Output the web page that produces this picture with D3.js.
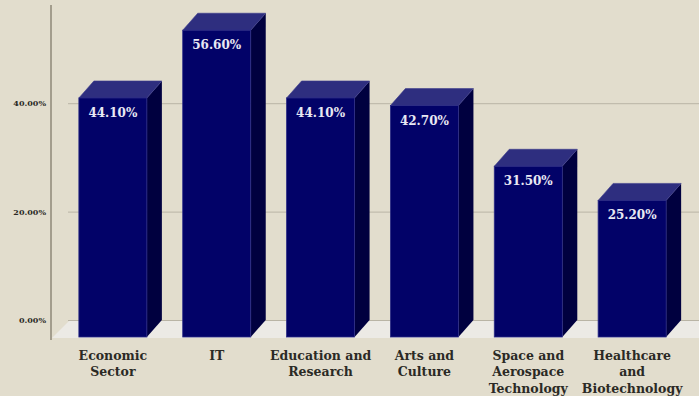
<!DOCTYPE html>
<html>
<head>
<meta charset="utf-8">
<script src="https://cdn.jsdelivr.net/npm/d3@7/dist/d3.min.js"></script>
<style>
  html, body { margin: 0; padding: 0; background: #e2ddcd; }
  svg { display: block; }
</style>
</head>
<body>
<svg id="chart" width="699" height="396"></svg>
<script>
// Share of respondents by sector (percent)
const categories = [
  ["Economic", "Sector"],
  ["IT"],
  ["Education and", "Research"],
  ["Arts and", "Culture"],
  ["Space and", "Aerospace", "Technology"],
  ["Healthcare", "and", "Biotechnology"]
];
const values = [44.1, 56.6, 44.1, 42.7, 31.5, 25.2];
const tickValues = [0, 20, 40];

const W = 699, H = 396;
const depthX = 15, depthY = 17;      // 3D extrusion offset
const plotLeft = 51, plotRight = 699;
const baseY = 337;

const svg = d3.select("#chart");
svg.append("rect").attr("width", W).attr("height", H).attr("fill", "#e2ddcd");

const x = d3.scaleBand()
  .domain(d3.range(values.length))
  .range([61, 684])
  .paddingInner(0.345)
  .paddingOuter(0.172);

const y = d3.scaleLinear().domain([0, 60]).range([baseY, baseY - 60 * 5.42]);

// Floor of the 3D plot
svg.append("path")
  .attr("d", d3.line()([
    [plotLeft + 1, baseY + 1],
    [plotLeft + 1 + depthX + 2, baseY + 1 - depthY],
    [plotRight, baseY + 1 - depthY],
    [plotRight, baseY + 1]
  ]) + "Z")
  .attr("fill", "#eceae5");

// Gridlines and tick labels on the back wall
const axis = d3.axisLeft(y)
  .tickValues(tickValues)
  .tickFormat(d => d3.format(".2%")(d / 100))
  .tickSize(-(plotRight - plotLeft - depthX - 2))
  .tickPadding(22);

const gAxis = svg.append("g")
  .attr("transform", `translate(${plotLeft + depthX + 2},${-depthY})`)
  .call(axis);
gAxis.select(".domain").remove();
gAxis.selectAll(".tick line").attr("stroke", "#b9b4a5").attr("stroke-width", 1);
gAxis.selectAll(".tick text")
  .attr("fill", "#2b2a25")
  .attr("font-family", "'DejaVu Serif', serif")
  .attr("font-weight", "bold")
  .attr("font-size", 8);

// Vertical axis line
svg.append("line")
  .attr("x1", plotLeft).attr("x2", plotLeft)
  .attr("y1", 5).attr("y2", baseY + 3)
  .attr("stroke", "#8e8777").attr("stroke-width", 1.5);

// Bars
const bars = svg.append("g").selectAll("g").data(values).join("g");

bars.append("path") // side face
  .attr("d", (d, i) => {
    const x1 = x(i) + x.bandwidth(), t = y(d);
    return d3.line()([[x1, t], [x1 + depthX, t - depthY], [x1 + depthX, baseY - depthY], [x1, baseY]]) + "Z";
  })
  .attr("fill", "#00003f");

bars.append("path") // top face
  .attr("d", (d, i) => {
    const x0 = x(i), x1 = x0 + x.bandwidth(), t = y(d);
    return d3.line()([[x0, t], [x0 + depthX, t - depthY], [x1 + depthX, t - depthY], [x1, t]]) + "Z";
  })
  .attr("fill", "#2e2e7f")
  .attr("stroke", "#3a3a8c").attr("stroke-width", 0.6);

bars.append("rect") // front face
  .attr("x", (d, i) => x(i))
  .attr("y", d => y(d))
  .attr("width", x.bandwidth())
  .attr("height", d => baseY - y(d))
  .attr("fill", "#020268")
  .attr("stroke", "#2c2c86").attr("stroke-width", 0.8);

bars.append("text") // value label
  .attr("x", (d, i) => x(i) + x.bandwidth() / 2)
  .attr("y", d => y(d) + 19)
  .attr("text-anchor", "middle")
  .attr("fill", "#e8e8f3")
  .attr("font-family", "'DejaVu Serif', serif")
  .attr("font-weight", "bold")
  .attr("font-size", 12)
  .text(d => d3.format(".2f")(d) + "%");

// Category labels
const cats = svg.append("g").selectAll("text").data(categories).join("text")
  .attr("x", (d, i) => x(i) + x.bandwidth() / 2)
  .attr("y", 360)
  .attr("text-anchor", "middle")
  .attr("fill", "#2b2a25")
  .attr("font-family", "'DejaVu Serif', serif")
  .attr("font-weight", "bold")
  .attr("font-size", 12.5);

cats.selectAll("tspan").data(d => d).join("tspan")
  .attr("x", function () { return d3.select(this.parentNode).attr("x"); })
  .attr("dy", (d, j) => j === 0 ? 0 : 16.3)
  .text(d => d);
</script>
</body>
</html>
